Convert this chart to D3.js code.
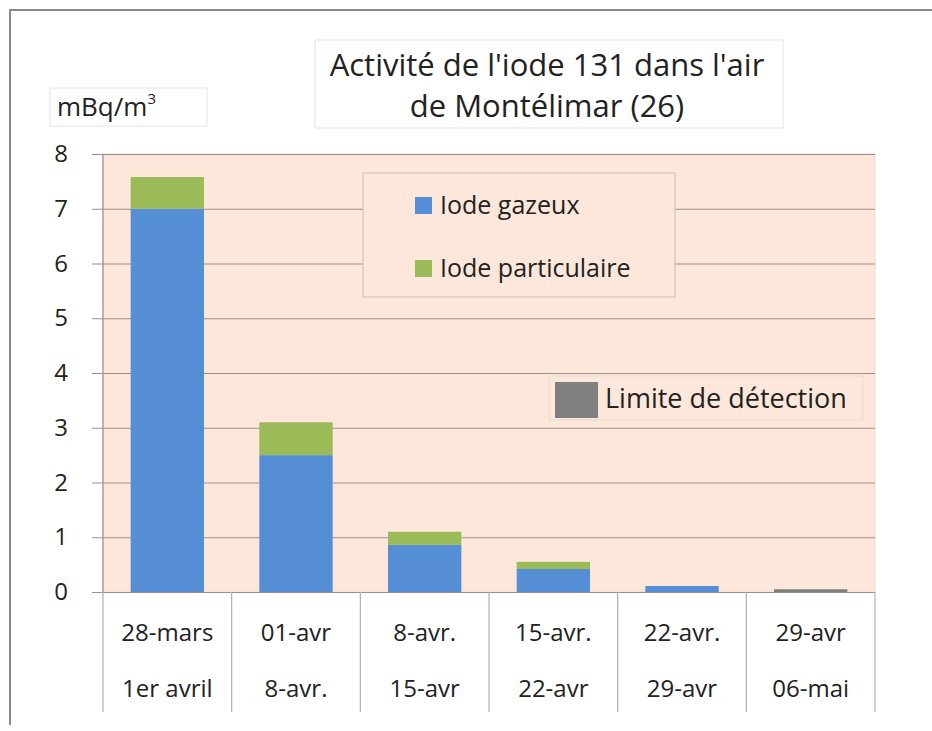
<!DOCTYPE html>
<html>
<head>
<meta charset="utf-8">
<script src="https://cdn.jsdelivr.net/npm/d3@7"></script>
<style>
    body { margin: 0; background: #fff; }
    text { font-family: "Open Sans", "Noto Sans", sans-serif; fill: #222; }
</style>
</head>
<body>
<div id="chart"></div>
<script>
// data
const periodStart = ["28-mars", "01-avr", "8-avr.", "15-avr.", "22-avr.", "29-avr"];
const periodEnd = ["1er avril", "8-avr.", "15-avr", "22-avr", "29-avr", "06-mai"];
const iodeGazeux = [7.0, 2.5, 0.86, 0.42, 0.11, 0];
const iodeParticulaire = [0.58, 0.6, 0.24, 0.13, 0, 0];
const limiteDetection = [0, 0, 0, 0, 0, 0.05];
const yTicks = [0, 1, 2, 3, 4, 5, 6, 7, 8];

const seriesNames = ["Iode gazeux", "Iode particulaire", "Limite de détection"];
const seriesColors = ["#558ed5", "#9bbb59", "#7f7f7f"];

let width = 932, height = 731;
let plotLeft = 103, plotRight = 875, plotTop = 154, plotBottom = 592;

let svg = d3.select("#chart").append("svg")
    .attr("width", width)
    .attr("height", height);

// outer frame (top + left only)
svg.append("path")
    .attr("d", "M10,725 L10,10 L932,10")
    .attr("fill", "none")
    .attr("stroke", "#8a8a8a")
    .attr("stroke-width", 2);

let x = d3.scaleBand()
    .domain(d3.range(periodStart.length))
    .range([plotLeft, plotRight])
    .paddingInner(0.43)
    .paddingOuter(0.215);

let y = d3.scaleLinear()
    .domain([0, 8])
    .range([plotBottom, plotTop]);

// plot background
svg.append("rect")
    .attr("x", plotLeft)
    .attr("y", plotTop)
    .attr("width", plotRight - plotLeft)
    .attr("height", plotBottom - plotTop)
    .attr("fill", "#fce7da")
    .attr("stroke", "#eadbd2");

// gridlines + y labels
let yAxis = d3.axisLeft(y)
    .tickValues(yTicks)
    .tickFormat(d3.format("d"))
    .tickSize(-(plotRight - 92))
    .tickPadding(24);

let gy = svg.append("g")
    .attr("transform", "translate(92,0)")
    .call(yAxis);
gy.select(".domain").remove();
gy.selectAll(".tick line").attr("stroke", "#9a8f8a").attr("stroke-width", 1.2);
gy.selectAll(".tick text").style("font-size", "24px").attr("fill", "#222");

// stacked bars
let stackData = periodStart.map(function (d, i) {
    return { i: i, g: iodeGazeux[i], p: iodeParticulaire[i], l: limiteDetection[i] };
});
let stack = d3.stack().keys(["g", "p", "l"]);
let layers = stack(stackData);

svg.selectAll(".layer")
    .data(layers)
    .enter().append("g")
    .attr("fill", function (d, i) { return seriesColors[i]; })
    .selectAll("rect")
    .data(function (d) { return d; })
    .enter().append("rect")
    .attr("x", function (d) { return x(d.data.i); })
    .attr("width", x.bandwidth())
    .attr("y", function (d) { return y(d[1]); })
    .attr("height", function (d) { return y(d[0]) - y(d[1]); });

// y axis line
svg.append("line")
    .attr("x1", plotLeft).attr("x2", plotLeft)
    .attr("y1", plotTop).attr("y2", plotBottom)
    .attr("stroke", "#9a8f8a").attr("stroke-width", 1.2);

// category separators below axis
let step = x.step();
let bounds = d3.range(periodStart.length + 1).map(function (i) {
    return plotLeft + i * step;
});
svg.selectAll(".sep")
    .data(bounds)
    .enter().append("line")
    .attr("x1", function (d) { return d; })
    .attr("x2", function (d) { return d; })
    .attr("y1", plotBottom)
    .attr("y2", 712)
    .attr("stroke", "#b0b0b0")
    .attr("stroke-width", 1.2);

// category labels
let cats = svg.selectAll(".cat")
    .data(periodStart)
    .enter().append("g")
    .attr("transform", function (d, i) {
        return "translate(" + (x(i) + x.bandwidth() / 2) + ",0)";
    });
cats.append("text")
    .attr("y", 641)
    .attr("text-anchor", "middle")
    .style("font-size", "24px")
    .text(function (d) { return d; });
cats.append("text")
    .attr("y", 697)
    .attr("text-anchor", "middle")
    .style("font-size", "24px")
    .text(function (d, i) { return periodEnd[i]; });

// title box
svg.append("rect")
    .attr("x", 315).attr("y", 40)
    .attr("width", 468).attr("height", 88)
    .attr("fill", "#fff").attr("stroke", "#e2e2e2");
svg.append("text")
    .attr("x", 547).attr("y", 76)
    .attr("text-anchor", "middle")
    .style("font-size", "31px")
    .text("Activité de l'iode 131 dans l'air");
svg.append("text")
    .attr("x", 547).attr("y", 117)
    .attr("text-anchor", "middle")
    .style("font-size", "31px")
    .text("de Montélimar (26)");

// unit box
svg.append("rect")
    .attr("x", 50).attr("y", 88)
    .attr("width", 157).attr("height", 38)
    .attr("fill", "#fff").attr("stroke", "#e2e2e2");
let unit = svg.append("text")
    .attr("x", 57).attr("y", 116)
    .style("font-size", "26px");
unit.append("tspan").text("mBq/m");
unit.append("tspan").attr("dy", -12).style("font-size", "15px").text("3");

// legend 1
svg.append("rect")
    .attr("x", 363).attr("y", 173)
    .attr("width", 312).attr("height", 124)
    .attr("fill", "#fce7da").attr("stroke", "#c9bdb6");
let leg = svg.selectAll(".leg")
    .data([0, 1])
    .enter().append("g")
    .attr("transform", function (d) { return "translate(415," + (197 + d * 63) + ")"; });
leg.append("rect")
    .attr("width", 17).attr("height", 17)
    .attr("fill", function (d) { return seriesColors[d]; });
leg.append("text")
    .attr("x", 25).attr("y", 17)
    .style("font-size", "25px")
    .text(function (d) { return seriesNames[d]; });

// legend 2
svg.append("rect")
    .attr("x", 549).attr("y", 376)
    .attr("width", 314).attr("height", 44)
    .attr("fill", "#fce7da").attr("stroke", "#eadbd2");
svg.append("rect")
    .attr("x", 555).attr("y", 382)
    .attr("width", 43).attr("height", 36)
    .attr("fill", seriesColors[2]);
svg.append("text")
    .attr("x", 605).attr("y", 408)
    .style("font-size", "27px")
    .text(seriesNames[2]);
</script>
</body>
</html>
